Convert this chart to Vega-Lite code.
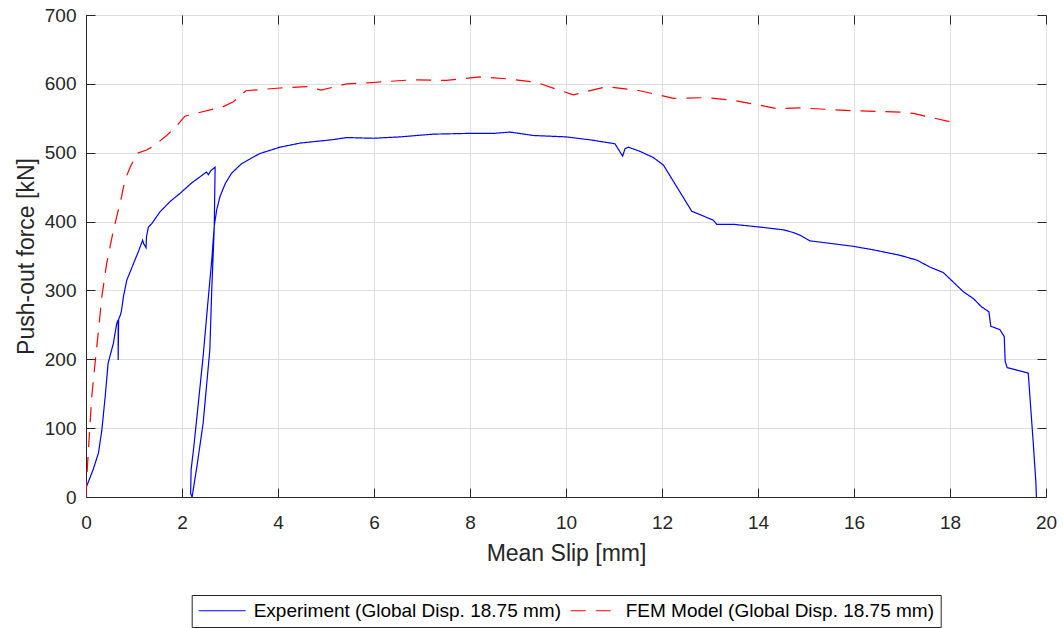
{
  "$schema": "https://vega.github.io/schema/vega-lite/v6.json",
  "width": 960,
  "height": 482,
  "autosize": {"type": "none"},
  "padding": {"left": 86, "top": 15, "right": 17, "bottom": 131},
  "background": "#ffffff",
  "config": {
    "font": "Liberation Sans",
    "view": {"stroke": "#262626", "strokeWidth": 1},
    "axis": {
      "domainColor": "#262626",
      "domainWidth": 1,
      "tickColor": "#262626",
      "tickWidth": 1,
      "tickSize": -9,
      "gridColor": "#dedede",
      "gridWidth": 1,
      "labelColor": "#262626",
      "labelFont": "Liberation Sans",
      "labelFontSize": 19,
      "titleColor": "#262626",
      "titleFont": "Liberation Sans",
      "titleFontSize": 23,
      "titleFontWeight": "normal"
    },
    "legend": {
      "orient": "none",
      "legendX": 105.7,
      "legendY": 580,
      "direction": "horizontal",
      "symbolType": "stroke",
      "symbolSize": 2209,
      "symbolStrokeWidth": 1.2,
      "clipHeight": 19,
      "labelFont": "Liberation Sans",
      "labelFontSize": 19,
      "labelColor": "#000000",
      "labelLimit": 0,
      "labelOffset": 7,
      "columnPadding": 8,
      "strokeColor": "#262626",
      "fillColor": "#ffffff",
      "padding": 6
    }
  },
  "datasets": {
    "curves": [
      {"series": "Experiment (Global Disp. 18.75 mm)", "i": 0, "slip": 0, "force": 0},
      {"series": "Experiment (Global Disp. 18.75 mm)", "i": 1, "slip": 0.01, "force": 15},
      {"series": "Experiment (Global Disp. 18.75 mm)", "i": 2, "slip": 0.15, "force": 40},
      {"series": "Experiment (Global Disp. 18.75 mm)", "i": 3, "slip": 0.26, "force": 64},
      {"series": "Experiment (Global Disp. 18.75 mm)", "i": 4, "slip": 0.33, "force": 97},
      {"series": "Experiment (Global Disp. 18.75 mm)", "i": 5, "slip": 0.40, "force": 146},
      {"series": "Experiment (Global Disp. 18.75 mm)", "i": 6, "slip": 0.46, "force": 194},
      {"series": "Experiment (Global Disp. 18.75 mm)", "i": 7, "slip": 0.57, "force": 223},
      {"series": "Experiment (Global Disp. 18.75 mm)", "i": 8, "slip": 0.64, "force": 252},
      {"series": "Experiment (Global Disp. 18.75 mm)", "i": 9, "slip": 0.67, "force": 257},
      {"series": "Experiment (Global Disp. 18.75 mm)", "i": 10, "slip": 0.67, "force": 199},
      {"series": "Experiment (Global Disp. 18.75 mm)", "i": 11, "slip": 0.68, "force": 258},
      {"series": "Experiment (Global Disp. 18.75 mm)", "i": 12, "slip": 0.72, "force": 265},
      {"series": "Experiment (Global Disp. 18.75 mm)", "i": 13, "slip": 0.74, "force": 271},
      {"series": "Experiment (Global Disp. 18.75 mm)", "i": 14, "slip": 0.78, "force": 291},
      {"series": "Experiment (Global Disp. 18.75 mm)", "i": 15, "slip": 0.85, "force": 315},
      {"series": "Experiment (Global Disp. 18.75 mm)", "i": 16, "slip": 0.99, "force": 339},
      {"series": "Experiment (Global Disp. 18.75 mm)", "i": 17, "slip": 1.10, "force": 358},
      {"series": "Experiment (Global Disp. 18.75 mm)", "i": 18, "slip": 1.18, "force": 373},
      {"series": "Experiment (Global Disp. 18.75 mm)", "i": 19, "slip": 1.20, "force": 368},
      {"series": "Experiment (Global Disp. 18.75 mm)", "i": 20, "slip": 1.22, "force": 366},
      {"series": "Experiment (Global Disp. 18.75 mm)", "i": 21, "slip": 1.25, "force": 362},
      {"series": "Experiment (Global Disp. 18.75 mm)", "i": 22, "slip": 1.26, "force": 378},
      {"series": "Experiment (Global Disp. 18.75 mm)", "i": 23, "slip": 1.30, "force": 392},
      {"series": "Experiment (Global Disp. 18.75 mm)", "i": 24, "slip": 1.37, "force": 397},
      {"series": "Experiment (Global Disp. 18.75 mm)", "i": 25, "slip": 1.54, "force": 414},
      {"series": "Experiment (Global Disp. 18.75 mm)", "i": 26, "slip": 1.75, "force": 429},
      {"series": "Experiment (Global Disp. 18.75 mm)", "i": 27, "slip": 1.96, "force": 441},
      {"series": "Experiment (Global Disp. 18.75 mm)", "i": 28, "slip": 2.20, "force": 456},
      {"series": "Experiment (Global Disp. 18.75 mm)", "i": 29, "slip": 2.51, "force": 472},
      {"series": "Experiment (Global Disp. 18.75 mm)", "i": 30, "slip": 2.55, "force": 468},
      {"series": "Experiment (Global Disp. 18.75 mm)", "i": 31, "slip": 2.60, "force": 474},
      {"series": "Experiment (Global Disp. 18.75 mm)", "i": 32, "slip": 2.69, "force": 479},
      {"series": "Experiment (Global Disp. 18.75 mm)", "i": 33, "slip": 2.68, "force": 430},
      {"series": "Experiment (Global Disp. 18.75 mm)", "i": 34, "slip": 2.67, "force": 387},
      {"series": "Experiment (Global Disp. 18.75 mm)", "i": 35, "slip": 2.62, "force": 301},
      {"series": "Experiment (Global Disp. 18.75 mm)", "i": 36, "slip": 2.58, "force": 214},
      {"series": "Experiment (Global Disp. 18.75 mm)", "i": 37, "slip": 2.44, "force": 107},
      {"series": "Experiment (Global Disp. 18.75 mm)", "i": 38, "slip": 2.31, "force": 44},
      {"series": "Experiment (Global Disp. 18.75 mm)", "i": 39, "slip": 2.21, "force": 0},
      {"series": "Experiment (Global Disp. 18.75 mm)", "i": 40, "slip": 2.18, "force": 5},
      {"series": "Experiment (Global Disp. 18.75 mm)", "i": 41, "slip": 2.19, "force": 40},
      {"series": "Experiment (Global Disp. 18.75 mm)", "i": 42, "slip": 2.24, "force": 69},
      {"series": "Experiment (Global Disp. 18.75 mm)", "i": 43, "slip": 2.34, "force": 136},
      {"series": "Experiment (Global Disp. 18.75 mm)", "i": 44, "slip": 2.44, "force": 204},
      {"series": "Experiment (Global Disp. 18.75 mm)", "i": 45, "slip": 2.55, "force": 291},
      {"series": "Experiment (Global Disp. 18.75 mm)", "i": 46, "slip": 2.62, "force": 344},
      {"series": "Experiment (Global Disp. 18.75 mm)", "i": 47, "slip": 2.67, "force": 392},
      {"series": "Experiment (Global Disp. 18.75 mm)", "i": 48, "slip": 2.72, "force": 416},
      {"series": "Experiment (Global Disp. 18.75 mm)", "i": 49, "slip": 2.79, "force": 436},
      {"series": "Experiment (Global Disp. 18.75 mm)", "i": 50, "slip": 2.90, "force": 455},
      {"series": "Experiment (Global Disp. 18.75 mm)", "i": 51, "slip": 3.03, "force": 470},
      {"series": "Experiment (Global Disp. 18.75 mm)", "i": 52, "slip": 3.24, "force": 484},
      {"series": "Experiment (Global Disp. 18.75 mm)", "i": 53, "slip": 3.52, "force": 495},
      {"series": "Experiment (Global Disp. 18.75 mm)", "i": 54, "slip": 3.63, "force": 499},
      {"series": "Experiment (Global Disp. 18.75 mm)", "i": 55, "slip": 4.04, "force": 508},
      {"series": "Experiment (Global Disp. 18.75 mm)", "i": 56, "slip": 4.46, "force": 514},
      {"series": "Experiment (Global Disp. 18.75 mm)", "i": 57, "slip": 5.15, "force": 519},
      {"series": "Experiment (Global Disp. 18.75 mm)", "i": 58, "slip": 5.43, "force": 522},
      {"series": "Experiment (Global Disp. 18.75 mm)", "i": 59, "slip": 5.99, "force": 521},
      {"series": "Experiment (Global Disp. 18.75 mm)", "i": 60, "slip": 6.54, "force": 523},
      {"series": "Experiment (Global Disp. 18.75 mm)", "i": 61, "slip": 7.24, "force": 527},
      {"series": "Experiment (Global Disp. 18.75 mm)", "i": 62, "slip": 7.93, "force": 528},
      {"series": "Experiment (Global Disp. 18.75 mm)", "i": 63, "slip": 8.49, "force": 528},
      {"series": "Experiment (Global Disp. 18.75 mm)", "i": 64, "slip": 8.83, "force": 530},
      {"series": "Experiment (Global Disp. 18.75 mm)", "i": 65, "slip": 9.32, "force": 525},
      {"series": "Experiment (Global Disp. 18.75 mm)", "i": 66, "slip": 10.01, "force": 523},
      {"series": "Experiment (Global Disp. 18.75 mm)", "i": 67, "slip": 10.57, "force": 518},
      {"series": "Experiment (Global Disp. 18.75 mm)", "i": 68, "slip": 11.02, "force": 513},
      {"series": "Experiment (Global Disp. 18.75 mm)", "i": 69, "slip": 11.18, "force": 495},
      {"series": "Experiment (Global Disp. 18.75 mm)", "i": 70, "slip": 11.23, "force": 506},
      {"series": "Experiment (Global Disp. 18.75 mm)", "i": 71, "slip": 11.30, "force": 508},
      {"series": "Experiment (Global Disp. 18.75 mm)", "i": 72, "slip": 11.54, "force": 502},
      {"series": "Experiment (Global Disp. 18.75 mm)", "i": 73, "slip": 11.82, "force": 493},
      {"series": "Experiment (Global Disp. 18.75 mm)", "i": 74, "slip": 12.03, "force": 482},
      {"series": "Experiment (Global Disp. 18.75 mm)", "i": 75, "slip": 12.62, "force": 415},
      {"series": "Experiment (Global Disp. 18.75 mm)", "i": 76, "slip": 13.07, "force": 402},
      {"series": "Experiment (Global Disp. 18.75 mm)", "i": 77, "slip": 13.14, "force": 396},
      {"series": "Experiment (Global Disp. 18.75 mm)", "i": 78, "slip": 13.49, "force": 396},
      {"series": "Experiment (Global Disp. 18.75 mm)", "i": 79, "slip": 14.04, "force": 392},
      {"series": "Experiment (Global Disp. 18.75 mm)", "i": 80, "slip": 14.53, "force": 388},
      {"series": "Experiment (Global Disp. 18.75 mm)", "i": 81, "slip": 14.74, "force": 384},
      {"series": "Experiment (Global Disp. 18.75 mm)", "i": 82, "slip": 14.88, "force": 380},
      {"series": "Experiment (Global Disp. 18.75 mm)", "i": 83, "slip": 15.08, "force": 372},
      {"series": "Experiment (Global Disp. 18.75 mm)", "i": 84, "slip": 15.99, "force": 364},
      {"series": "Experiment (Global Disp. 18.75 mm)", "i": 85, "slip": 16.40, "force": 359},
      {"series": "Experiment (Global Disp. 18.75 mm)", "i": 86, "slip": 16.96, "force": 351},
      {"series": "Experiment (Global Disp. 18.75 mm)", "i": 87, "slip": 17.31, "force": 344},
      {"series": "Experiment (Global Disp. 18.75 mm)", "i": 88, "slip": 17.58, "force": 334},
      {"series": "Experiment (Global Disp. 18.75 mm)", "i": 89, "slip": 17.86, "force": 326},
      {"series": "Experiment (Global Disp. 18.75 mm)", "i": 90, "slip": 18.04, "force": 314},
      {"series": "Experiment (Global Disp. 18.75 mm)", "i": 91, "slip": 18.28, "force": 298},
      {"series": "Experiment (Global Disp. 18.75 mm)", "i": 92, "slip": 18.49, "force": 288},
      {"series": "Experiment (Global Disp. 18.75 mm)", "i": 93, "slip": 18.66, "force": 276},
      {"series": "Experiment (Global Disp. 18.75 mm)", "i": 94, "slip": 18.81, "force": 269},
      {"series": "Experiment (Global Disp. 18.75 mm)", "i": 95, "slip": 18.85, "force": 248},
      {"series": "Experiment (Global Disp. 18.75 mm)", "i": 96, "slip": 19.04, "force": 243},
      {"series": "Experiment (Global Disp. 18.75 mm)", "i": 97, "slip": 19.13, "force": 233},
      {"series": "Experiment (Global Disp. 18.75 mm)", "i": 98, "slip": 19.15, "force": 197},
      {"series": "Experiment (Global Disp. 18.75 mm)", "i": 99, "slip": 19.19, "force": 188},
      {"series": "Experiment (Global Disp. 18.75 mm)", "i": 100, "slip": 19.63, "force": 180},
      {"series": "Experiment (Global Disp. 18.75 mm)", "i": 101, "slip": 19.67, "force": 141},
      {"series": "Experiment (Global Disp. 18.75 mm)", "i": 102, "slip": 19.74, "force": 73},
      {"series": "Experiment (Global Disp. 18.75 mm)", "i": 103, "slip": 19.79, "force": 20},
      {"series": "Experiment (Global Disp. 18.75 mm)", "i": 104, "slip": 19.80, "force": 0},
      {"series": "FEM Model (Global Disp. 18.75 mm)", "i": 200, "slip": 0, "force": 0},
      {"series": "FEM Model (Global Disp. 18.75 mm)", "i": 201, "slip": 0.01, "force": 20},
      {"series": "FEM Model (Global Disp. 18.75 mm)", "i": 202, "slip": 0.05, "force": 68},
      {"series": "FEM Model (Global Disp. 18.75 mm)", "i": 203, "slip": 0.12, "force": 146},
      {"series": "FEM Model (Global Disp. 18.75 mm)", "i": 204, "slip": 0.19, "force": 195},
      {"series": "FEM Model (Global Disp. 18.75 mm)", "i": 205, "slip": 0.26, "force": 242},
      {"series": "FEM Model (Global Disp. 18.75 mm)", "i": 206, "slip": 0.33, "force": 291},
      {"series": "FEM Model (Global Disp. 18.75 mm)", "i": 207, "slip": 0.43, "force": 339},
      {"series": "FEM Model (Global Disp. 18.75 mm)", "i": 208, "slip": 0.57, "force": 387},
      {"series": "FEM Model (Global Disp. 18.75 mm)", "i": 209, "slip": 0.74, "force": 436},
      {"series": "FEM Model (Global Disp. 18.75 mm)", "i": 210, "slip": 0.81, "force": 460},
      {"series": "FEM Model (Global Disp. 18.75 mm)", "i": 211, "slip": 0.92, "force": 479},
      {"series": "FEM Model (Global Disp. 18.75 mm)", "i": 212, "slip": 1.06, "force": 499},
      {"series": "FEM Model (Global Disp. 18.75 mm)", "i": 213, "slip": 1.26, "force": 504},
      {"series": "FEM Model (Global Disp. 18.75 mm)", "i": 214, "slip": 1.40, "force": 509},
      {"series": "FEM Model (Global Disp. 18.75 mm)", "i": 215, "slip": 1.68, "force": 525},
      {"series": "FEM Model (Global Disp. 18.75 mm)", "i": 216, "slip": 1.89, "force": 539},
      {"series": "FEM Model (Global Disp. 18.75 mm)", "i": 217, "slip": 2.06, "force": 553},
      {"series": "FEM Model (Global Disp. 18.75 mm)", "i": 218, "slip": 2.86, "force": 567},
      {"series": "FEM Model (Global Disp. 18.75 mm)", "i": 219, "slip": 3.07, "force": 574},
      {"series": "FEM Model (Global Disp. 18.75 mm)", "i": 220, "slip": 3.33, "force": 590},
      {"series": "FEM Model (Global Disp. 18.75 mm)", "i": 221, "slip": 4.04, "force": 594},
      {"series": "FEM Model (Global Disp. 18.75 mm)", "i": 222, "slip": 4.60, "force": 596},
      {"series": "FEM Model (Global Disp. 18.75 mm)", "i": 223, "slip": 4.90, "force": 591},
      {"series": "FEM Model (Global Disp. 18.75 mm)", "i": 224, "slip": 5.43, "force": 600},
      {"series": "FEM Model (Global Disp. 18.75 mm)", "i": 225, "slip": 5.99, "force": 602},
      {"series": "FEM Model (Global Disp. 18.75 mm)", "i": 226, "slip": 6.82, "force": 606},
      {"series": "FEM Model (Global Disp. 18.75 mm)", "i": 227, "slip": 7.51, "force": 605},
      {"series": "FEM Model (Global Disp. 18.75 mm)", "i": 228, "slip": 8.21, "force": 610},
      {"series": "FEM Model (Global Disp. 18.75 mm)", "i": 229, "slip": 8.83, "force": 607},
      {"series": "FEM Model (Global Disp. 18.75 mm)", "i": 230, "slip": 9.39, "force": 602},
      {"series": "FEM Model (Global Disp. 18.75 mm)", "i": 231, "slip": 10.15, "force": 584},
      {"series": "FEM Model (Global Disp. 18.75 mm)", "i": 232, "slip": 10.85, "force": 596},
      {"series": "FEM Model (Global Disp. 18.75 mm)", "i": 233, "slip": 11.54, "force": 590},
      {"series": "FEM Model (Global Disp. 18.75 mm)", "i": 234, "slip": 12.24, "force": 579},
      {"series": "FEM Model (Global Disp. 18.75 mm)", "i": 235, "slip": 12.93, "force": 580},
      {"series": "FEM Model (Global Disp. 18.75 mm)", "i": 236, "slip": 13.49, "force": 576},
      {"series": "FEM Model (Global Disp. 18.75 mm)", "i": 237, "slip": 14.04, "force": 569},
      {"series": "FEM Model (Global Disp. 18.75 mm)", "i": 238, "slip": 14.39, "force": 564},
      {"series": "FEM Model (Global Disp. 18.75 mm)", "i": 239, "slip": 14.88, "force": 565},
      {"series": "FEM Model (Global Disp. 18.75 mm)", "i": 240, "slip": 15.99, "force": 561},
      {"series": "FEM Model (Global Disp. 18.75 mm)", "i": 241, "slip": 16.96, "force": 559},
      {"series": "FEM Model (Global Disp. 18.75 mm)", "i": 242, "slip": 17.24, "force": 557},
      {"series": "FEM Model (Global Disp. 18.75 mm)", "i": 243, "slip": 18.07, "force": 544}
    ]
  },
  "data": {"name": "curves"},
  "layer": [
    {
      "mark": {"type": "line", "strokeWidth": 1.2, "clip": true},
      "encoding": {
        "x": {
          "field": "slip",
          "type": "quantitative",
          "title": "Mean Slip [mm]",
          "scale": {"domain": [0, 20], "nice": false, "zero": false},
          "axis": {"values": [0, 2, 4, 6, 8, 10, 12, 14, 16, 18, 20], "grid": true, "labelPadding": 25, "titlePadding": 10, "labelFlush": false}
        },
        "y": {
          "field": "force",
          "type": "quantitative",
          "title": "Push-out force [kN]",
          "scale": {"domain": [0, 700], "nice": false},
          "axis": {"values": [0, 100, 200, 300, 400, 500, 600, 700], "grid": true, "labelPadding": 19, "titlePadding": 6, "labelFlush": false}
        },
        "color": {
          "field": "series",
          "type": "nominal",
          "title": null,
          "scale": {"domain": ["Experiment (Global Disp. 18.75 mm)", "FEM Model (Global Disp. 18.75 mm)"], "range": ["#0000ff", "#ff0000"]}
        },
        "strokeDash": {
          "field": "series",
          "type": "nominal",
          "title": null,
          "scale": {"domain": ["Experiment (Global Disp. 18.75 mm)", "FEM Model (Global Disp. 18.75 mm)"], "range": [[1, 0], [15, 10]]}
        },
        "order": {"field": "i", "type": "quantitative"}
      }
    },
    {
      "mark": {"type": "line", "opacity": 0},
      "encoding": {
        "x": {
          "field": "slip",
          "type": "quantitative",
          "scale": {"domain": [0, 20], "nice": false, "zero": false},
          "axis": {"orient": "top", "values": [0, 2, 4, 6, 8, 10, 12, 14, 16, 18, 20], "labels": false, "grid": false, "domain": false, "title": null}
        },
        "y": {
          "field": "force",
          "type": "quantitative",
          "scale": {"domain": [0, 700], "nice": false},
          "axis": {"orient": "right", "values": [0, 100, 200, 300, 400, 500, 600, 700], "labels": false, "grid": false, "domain": false, "title": null}
        },
        "detail": {"field": "series", "type": "nominal"},
        "order": {"field": "i", "type": "quantitative"}
      }
    }
  ],
  "resolve": {"scale": {"x": "independent", "y": "independent"}}
}
